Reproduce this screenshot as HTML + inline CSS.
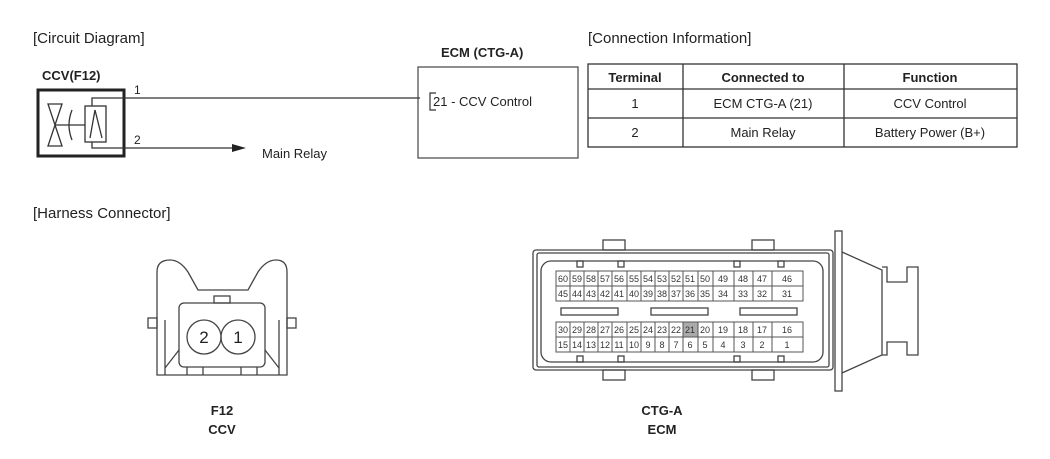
<!DOCTYPE html>
<html><head><meta charset="utf-8"><style>
html,body{margin:0;padding:0;background:#fff;}
svg{display:block;font-family:"Liberation Sans",Arial,sans-serif;}
</style></head><body>
<svg width="1050" height="459" viewBox="0 0 1050 459" xmlns="http://www.w3.org/2000/svg">
<rect width="1050" height="459" fill="#fff"/>
<g fill="#222" font-size="15">
<text x="33" y="43">[Circuit Diagram]</text>
<text x="588" y="43">[Connection Information]</text>
<text x="33" y="218">[Harness Connector]</text>
</g>
<text x="42" y="80" font-size="13" font-weight="bold" fill="#222">CCV(F12)</text>
<rect x="38" y="90" width="86" height="66" fill="none" stroke="#222" stroke-width="3"/>
<g stroke="#333" stroke-width="1.3" fill="none">
<polygon points="48,104 62,104 48,146 62,146"/>
<line x1="55" y1="125" x2="85" y2="125"/>
<path d="M72,110 Q66,125 72,140"/>
<rect x="85" y="106" width="21" height="36"/>
<line x1="90" y1="138" x2="95" y2="110"/><line x1="95" y1="110" x2="102" y2="138"/>
<polyline points="92,106 92,98 420,98"/>
<polyline points="92,142 92,148 235,148"/>
</g>
<polygon points="232,144 246,148 232,152" fill="#222"/>
<text x="134" y="94" font-size="12" fill="#222">1</text>
<text x="134" y="144" font-size="12" fill="#222">2</text>
<text x="262" y="158" font-size="13" fill="#222">Main Relay</text>
<text x="441" y="57" font-size="13" font-weight="bold" fill="#222">ECM (CTG-A)</text>
<rect x="418" y="67" width="160" height="91" fill="none" stroke="#444" stroke-width="1.2"/>
<polyline points="436,93 430,93 430,110 436,110" fill="none" stroke="#333" stroke-width="1.2"/>
<text x="433" y="106" font-size="13" fill="#222">21 - CCV Control</text>
<g stroke="#333" stroke-width="1.3" fill="none">
<rect x="588" y="64" width="429" height="83"/>
<line x1="588" y1="89" x2="1017" y2="89"/>
<line x1="588" y1="118" x2="1017" y2="118"/>
<line x1="683" y1="64" x2="683" y2="147"/>
<line x1="844" y1="64" x2="844" y2="147"/>
</g>
<g font-size="13" fill="#222" text-anchor="middle">
<text x="635" y="82" font-weight="bold">Terminal</text>
<text x="763" y="82" font-weight="bold">Connected to</text>
<text x="930" y="82" font-weight="bold">Function</text>
<text x="635" y="108">1</text>
<text x="763" y="108">ECM CTG-A (21)</text>
<text x="930" y="108">CCV Control</text>
<text x="635" y="137">2</text>
<text x="763" y="137">Main Relay</text>
<text x="930" y="137">Battery Power (B+)</text>
</g>
<g stroke="#444" stroke-width="1.3" fill="none">
<path d="M157,375 L157,272 Q157,260 170,260 Q180,260 188,272 L198,290 L248,290 L258,272 Q266,260 276,260 Q287,260 287,272 L287,375 Z"/>
<rect x="179" y="303" width="86" height="64" rx="5"/>
<rect x="214" y="296" width="16" height="7"/>
<rect x="148" y="318" width="9" height="10"/>
<rect x="287" y="318" width="9" height="10"/>
<line x1="165" y1="320" x2="165" y2="375"/><line x1="279" y1="320" x2="279" y2="375"/>
<line x1="165" y1="368" x2="179" y2="350"/><line x1="279" y1="368" x2="265" y2="350"/>
<line x1="187" y1="367" x2="187" y2="375"/><line x1="203" y1="367" x2="203" y2="375"/>
<line x1="241" y1="367" x2="241" y2="375"/><line x1="257" y1="367" x2="257" y2="375"/>
<circle cx="204" cy="337" r="17"/><circle cx="238" cy="337" r="17"/>
</g>
<g font-size="17" fill="#222" text-anchor="middle"><text x="204" y="343">2</text><text x="238" y="343">1</text></g>
<g font-size="13" font-weight="bold" fill="#222" text-anchor="middle">
<text x="222" y="415">F12</text><text x="222" y="434">CCV</text>
<text x="662" y="415">CTG-A</text><text x="662" y="434">ECM</text>
</g>
<g stroke="#444" stroke-width="1.3" fill="none">
<rect x="533" y="250" width="300" height="120" rx="3"/>
<rect x="537" y="253" width="292" height="114" rx="2"/>
<rect x="541" y="261" width="282" height="101" rx="10"/>
<rect x="835" y="231" width="7" height="160"/>
<polyline points="842,252 882,270 882,355 842,373"/>
<polyline points="882,267 887,267 887,282 907,282 907,267 918,267 918,355 907,355 907,342 887,342 887,355 882,355"/>
<rect x="603" y="240" width="22" height="10"/><rect x="752" y="240" width="22" height="10"/>
<rect x="603" y="370" width="22" height="10"/><rect x="752" y="370" width="22" height="10"/>
<rect x="577" y="261" width="6" height="6"/><rect x="618" y="261" width="6" height="6"/><rect x="734" y="261" width="6" height="6"/><rect x="778" y="261" width="6" height="6"/>
<rect x="577" y="356" width="6" height="6"/><rect x="618" y="356" width="6" height="6"/><rect x="734" y="356" width="6" height="6"/><rect x="778" y="356" width="6" height="6"/>
<rect x="561" y="308" width="57" height="7"/><rect x="651" y="308" width="57" height="7"/><rect x="740" y="308" width="57" height="7"/>
</g>
<rect x="683" y="322" width="15" height="15" fill="#aaa"/>
<g stroke="#555" stroke-width="1" fill="none">
<rect x="556" y="271" width="247" height="30"/><line x1="556" y1="286" x2="803" y2="286"/>
<rect x="556" y="322" width="247" height="30"/><line x1="556" y1="337" x2="803" y2="337"/>
</g>
<g stroke="#555" stroke-width="1">
<line x1="570" y1="271" x2="570" y2="301"/><line x1="584" y1="271" x2="584" y2="301"/><line x1="598" y1="271" x2="598" y2="301"/><line x1="612" y1="271" x2="612" y2="301"/><line x1="627" y1="271" x2="627" y2="301"/><line x1="641" y1="271" x2="641" y2="301"/><line x1="655" y1="271" x2="655" y2="301"/><line x1="669" y1="271" x2="669" y2="301"/><line x1="683" y1="271" x2="683" y2="301"/><line x1="698" y1="271" x2="698" y2="301"/><line x1="713" y1="271" x2="713" y2="301"/><line x1="734" y1="271" x2="734" y2="301"/><line x1="753" y1="271" x2="753" y2="301"/><line x1="772" y1="271" x2="772" y2="301"/>
<line x1="570" y1="322" x2="570" y2="352"/><line x1="584" y1="322" x2="584" y2="352"/><line x1="598" y1="322" x2="598" y2="352"/><line x1="612" y1="322" x2="612" y2="352"/><line x1="627" y1="322" x2="627" y2="352"/><line x1="641" y1="322" x2="641" y2="352"/><line x1="655" y1="322" x2="655" y2="352"/><line x1="669" y1="322" x2="669" y2="352"/><line x1="683" y1="322" x2="683" y2="352"/><line x1="698" y1="322" x2="698" y2="352"/><line x1="713" y1="322" x2="713" y2="352"/><line x1="734" y1="322" x2="734" y2="352"/><line x1="753" y1="322" x2="753" y2="352"/><line x1="772" y1="322" x2="772" y2="352"/>
</g>
<g font-size="9" fill="#333" text-anchor="middle">
<text x="563" y="282">60</text><text x="577" y="282">59</text><text x="591" y="282">58</text><text x="605" y="282">57</text><text x="619" y="282">56</text><text x="634" y="282">55</text><text x="648" y="282">54</text><text x="662" y="282">53</text><text x="676" y="282">52</text><text x="690" y="282">51</text><text x="705" y="282">50</text><text x="723" y="282">49</text><text x="743" y="282">48</text><text x="762" y="282">47</text><text x="787" y="282">46</text>
<text x="563" y="297">45</text><text x="577" y="297">44</text><text x="591" y="297">43</text><text x="605" y="297">42</text><text x="619" y="297">41</text><text x="634" y="297">40</text><text x="648" y="297">39</text><text x="662" y="297">38</text><text x="676" y="297">37</text><text x="690" y="297">36</text><text x="705" y="297">35</text><text x="723" y="297">34</text><text x="743" y="297">33</text><text x="762" y="297">32</text><text x="787" y="297">31</text>
<text x="563" y="333">30</text><text x="577" y="333">29</text><text x="591" y="333">28</text><text x="605" y="333">27</text><text x="619" y="333">26</text><text x="634" y="333">25</text><text x="648" y="333">24</text><text x="662" y="333">23</text><text x="676" y="333">22</text><text x="690" y="333">21</text><text x="705" y="333">20</text><text x="723" y="333">19</text><text x="743" y="333">18</text><text x="762" y="333">17</text><text x="787" y="333">16</text>
<text x="563" y="348">15</text><text x="577" y="348">14</text><text x="591" y="348">13</text><text x="605" y="348">12</text><text x="619" y="348">11</text><text x="634" y="348">10</text><text x="648" y="348">9</text><text x="662" y="348">8</text><text x="676" y="348">7</text><text x="690" y="348">6</text><text x="705" y="348">5</text><text x="723" y="348">4</text><text x="743" y="348">3</text><text x="762" y="348">2</text><text x="787" y="348">1</text>
</g>
</svg>
</body></html>
